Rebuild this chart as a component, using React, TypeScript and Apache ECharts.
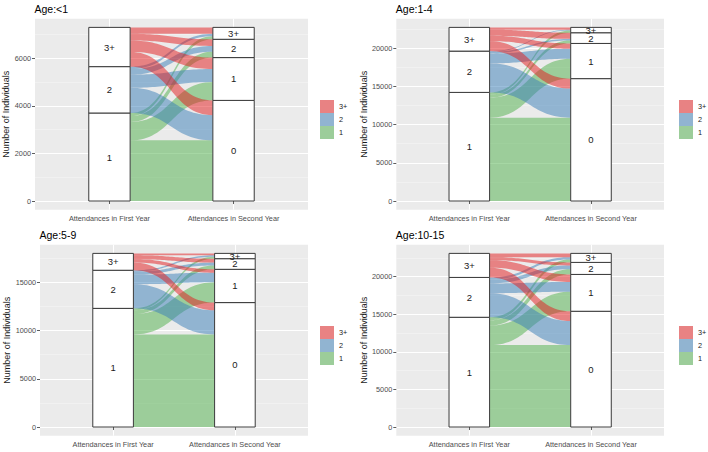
import React, { useEffect, useRef } from 'react';
import * as echarts from 'echarts';

// ---------- data ----------
const panelTitles = ['Age:<1', 'Age:1-4', 'Age:5-9', 'Age:10-15'];
const xCategories = ['Attendances in First Year', 'Attendances in Second Year'];
const firstYearLevels = ['1', '2', '3+'];
const secondYearLevels = ['0', '1', '2', '3+'];
const legendOrder = ['3+', '2', '1'];
// rows: first-year attendances (1, 2, 3+); columns: second-year attendances (0, 1, 2, 3+)
const flowsAgeUnder1 = [
  [2550, 770, 250, 130],
  [1060, 550, 240, 100],
  [620, 480, 280, 270],
];
const flowsAge1to4 = [
  [10900, 2600, 400, 300],
  [3800, 1300, 200, 100],
  [1300, 700, 800, 300],
];
const flowsAge5to9 = [
  [9600, 2100, 400, 200],
  [2500, 1000, 300, 150],
  [800, 350, 400, 200],
];
const flowsAge10to15 = [
  [10900, 2600, 700, 400],
  [3200, 1300, 500, 300],
  [1300, 1000, 400, 500],
];
const yMajorTicks = [
  [0, 2000, 4000, 6000],
  [0, 5000, 10000, 15000, 20000],
  [0, 5000, 10000, 15000],
  [0, 5000, 10000, 15000, 20000],
];
const yMinorTicks = [
  [1000, 3000, 5000, 7000],
  [2500, 7500, 12500, 17500, 22500],
  [2500, 7500, 12500, 17500],
  [2500, 7500, 12500, 17500, 22500],
];

// ---------- styling / layout ----------
const FONT = '"Liberation Sans", Arial, sans-serif';
const flowFill: Record<string, string> = {
  '1': 'rgba(77,175,74,0.5)',
  '2': 'rgba(55,126,184,0.5)',
  '3+': 'rgba(228,26,28,0.5)',
};
const legendColor: Record<string, string> = {
  '1': '#9CCD9A',
  '2': '#91B4D1',
  '3+': '#E88283',
};
const layouts = [
  { ox: 0, oy: 0, left: 35, width: 273, top: 18.7, legendLeft: 320, legendTop: 100, nameGap: 18 },
  { ox: 354, oy: 0, left: 396.3, width: 267.7, top: 18.7, legendLeft: 679, legendTop: 100, nameGap: 23.5 },
  { ox: 0, oy: 226, left: 40, width: 268, top: 244.7, legendLeft: 320, legendTop: 326, nameGap: 23 },
  { ox: 354, oy: 226, left: 396.3, width: 267.7, top: 244.7, legendLeft: 679, legendTop: 326, nameGap: 23.5 },
];
const GRID_H = 191;
const HALF = 1 / 6; // half stratum width in x units

const sum = (a: number[]) => a.reduce((s, v) => s + v, 0);
const cumStart = (a: number[]) => a.map((_, i) => sum(a.slice(0, i)));

function buildPanel(f: number[][]) {
  const originTotals = f.map((r) => sum(r));
  const destTotals = secondYearLevels.map((_, j) => sum(f.map((r) => r[j])));
  const leftStart = cumStart(originTotals);
  const rightStart = cumStart(destTotals);
  const flows = f.map((row, i) =>
    row.map((v, j) => {
      const yl0 = leftStart[i] + sum(row.slice(0, j));
      const yr0 = rightStart[j] + sum(f.slice(0, i).map((r) => r[j]));
      return [yl0, yl0 + v, yr0, yr0 + v];
    })
  );
  const strata: { x: number; y0: number; y1: number; label: string }[] = [];
  originTotals.forEach((t, i) => strata.push({ x: 1, y0: leftStart[i], y1: leftStart[i] + t, label: firstYearLevels[i] }));
  destTotals.forEach((t, j) => strata.push({ x: 2, y0: rightStart[j], y1: rightStart[j] + t, label: secondYearLevels[j] }));
  return { flows, strata, total: sum(originTotals) };
}

const panelFlows = [flowsAgeUnder1, flowsAge1to4, flowsAge5to9, flowsAge10to15];

function buildOption() {
  const grid: any[] = [];
  const xAxis: any[] = [];
  const yAxis: any[] = [];
  const series: any[] = [];
  const title: any[] = [];
  const legend: any[] = [];

  panelFlows.forEach((f, p) => {
    const L = layouts[p];
    const { flows, strata, total } = buildPanel(f);
    grid.push({
      left: L.left, top: L.top, width: L.width, height: GRID_H,
      show: true, backgroundColor: '#EBEBEB', borderWidth: 0, containLabel: false,
    });
    xAxis.push({
      type: 'value', gridIndex: p, min: 0.4, max: 2.6,
      axisLine: { show: false },
      axisTick: { show: true, customValues: [1, 2], length: 3, lineStyle: { color: '#333333', width: 0.8 } },
      axisLabel: {
        customValues: [1, 2], color: '#4D4D4D', fontSize: 7.3, fontFamily: FONT, margin: 5,
        formatter: (v: number) => xCategories[Math.round(v) - 1] ?? '',
      },
      splitLine: { show: true, lineStyle: { color: '#FFFFFF', width: 1 } },
    });
    yAxis.push({
      type: 'value', gridIndex: p, min: -0.05 * total, max: 1.05 * total,
      axisLine: { show: false },
      axisTick: { show: true, customValues: yMajorTicks[p], length: 3, lineStyle: { color: '#333333', width: 0.8 } },
      axisLabel: {
        customValues: yMajorTicks[p], color: '#4D4D4D', fontSize: 7.3, fontFamily: FONT, margin: 4,
        formatter: (v: number) => String(Math.round(v)),
      },
      splitLine: { show: true, lineStyle: { color: '#FFFFFF', width: 1 } },
      name: 'Number of Individuals', nameLocation: 'middle', nameGap: L.nameGap,
      nameTextStyle: { color: '#1A1A1A', fontSize: 9, fontFamily: FONT },
    });
    yAxis.push({
      type: 'value', gridIndex: p, min: -0.05 * total, max: 1.05 * total, position: 'left',
      axisLine: { show: false },
      axisTick: { show: false, customValues: yMinorTicks[p] },
      axisLabel: { show: false, customValues: yMinorTicks[p] },
      splitLine: { show: true, lineStyle: { color: '#F7F7F7', width: 0.5 } },
    });
    title.push({
      text: panelTitles[p], left: L.left - 0.5, top: L.oy + 3.5, padding: 0,
      textStyle: { color: '#000000', fontSize: 10.5, fontWeight: 'normal', fontFamily: FONT },
    });
    legend.push({
      orient: 'vertical', left: L.legendLeft, top: L.legendTop, padding: 0,
      itemWidth: 14, itemHeight: 13, itemGap: 0, icon: 'rect', selectedMode: false,
      textStyle: { color: '#1A1A1A', fontSize: 7.3, fontFamily: FONT },
      data: legendOrder.map((n) => ({ name: n, itemStyle: { color: legendColor[n] } })),
    });

    // flows, one series per first-year level
    flows.forEach((rows, i) => {
      const name = firstYearLevels[i];
      series.push({
        type: 'custom', name, xAxisIndex: p, yAxisIndex: 2 * p, z: 2,
        itemStyle: { color: legendColor[name] },
        silent: true,
        data: rows,
        renderItem: (params: any, api: any) => {
          const yl0 = api.value(0), yl1 = api.value(1), yr0 = api.value(2), yr1 = api.value(3);
          const x0 = 1 + HALF, x1 = 2 - HALF, xm = (x0 + x1) / 2;
          const N = 32;
          const top: number[][] = [];
          const bot: number[][] = [];
          for (let k = 0; k <= N; k++) {
            const t = k / N;
            const u = 1 - t;
            const bx = u * u * u * x0 + 3 * u * u * t * xm + 3 * u * t * t * xm + t * t * t * x1;
            const s = 3 * u * t * t + t * t * t;
            top.push(api.coord([bx, yl1 + (yr1 - yl1) * s]));
            bot.push(api.coord([bx, yl0 + (yr0 - yl0) * s]));
          }
          const points = top.concat(bot.reverse());
          return { type: 'polygon', shape: { points }, style: { fill: flowFill[name], stroke: 'none' } };
        },
      });
    });

    // strata boxes
    series.push({
      type: 'custom', name: 'strata-' + p, xAxisIndex: p, yAxisIndex: 2 * p, z: 3, silent: true,
      data: strata.map((s) => [s.x, s.y0, s.y1]),
      renderItem: (params: any, api: any) => {
        const x = api.value(0), y0 = api.value(1), y1 = api.value(2);
        const a = api.coord([x - HALF, y1]);
        const b = api.coord([x + HALF, y0]);
        return {
          type: 'rect',
          shape: { x: a[0], y: a[1], width: b[0] - a[0], height: b[1] - a[1] },
          style: { fill: '#FFFFFF', stroke: '#3A3A3A', lineWidth: 1 },
        };
      },
    });
    // strata labels
    series.push({
      type: 'custom', name: 'labels-' + p, xAxisIndex: p, yAxisIndex: 2 * p, z: 4, silent: true,
      data: strata.map((s, k) => [s.x, (s.y0 + s.y1) / 2, k]),
      renderItem: (params: any, api: any) => {
        const c = api.coord([api.value(0), api.value(1)]);
        return {
          type: 'text', x: c[0], y: c[1],
          style: {
            text: strata[api.value(2)].label, fill: '#1A1A1A', fontSize: 9.5, fontFamily: FONT,
            align: 'center', verticalAlign: 'middle',
          },
        };
      },
    });
  });

  return {
    animation: false,
    backgroundColor: '#FFFFFF',
    title, legend, grid, xAxis, yAxis, series,
  };
}

export default function App() {
  const ref = useRef<HTMLDivElement>(null);
  useEffect(() => {
    if (!ref.current) return;
    const chart = echarts.init(ref.current, undefined, { renderer: 'svg' });
    chart.setOption(buildOption() as any);
    return () => chart.dispose();
  }, []);
  return <div ref={ref} style={{ position: 'absolute', left: 0, top: 0, width: 708, height: 452 }} />;
}
